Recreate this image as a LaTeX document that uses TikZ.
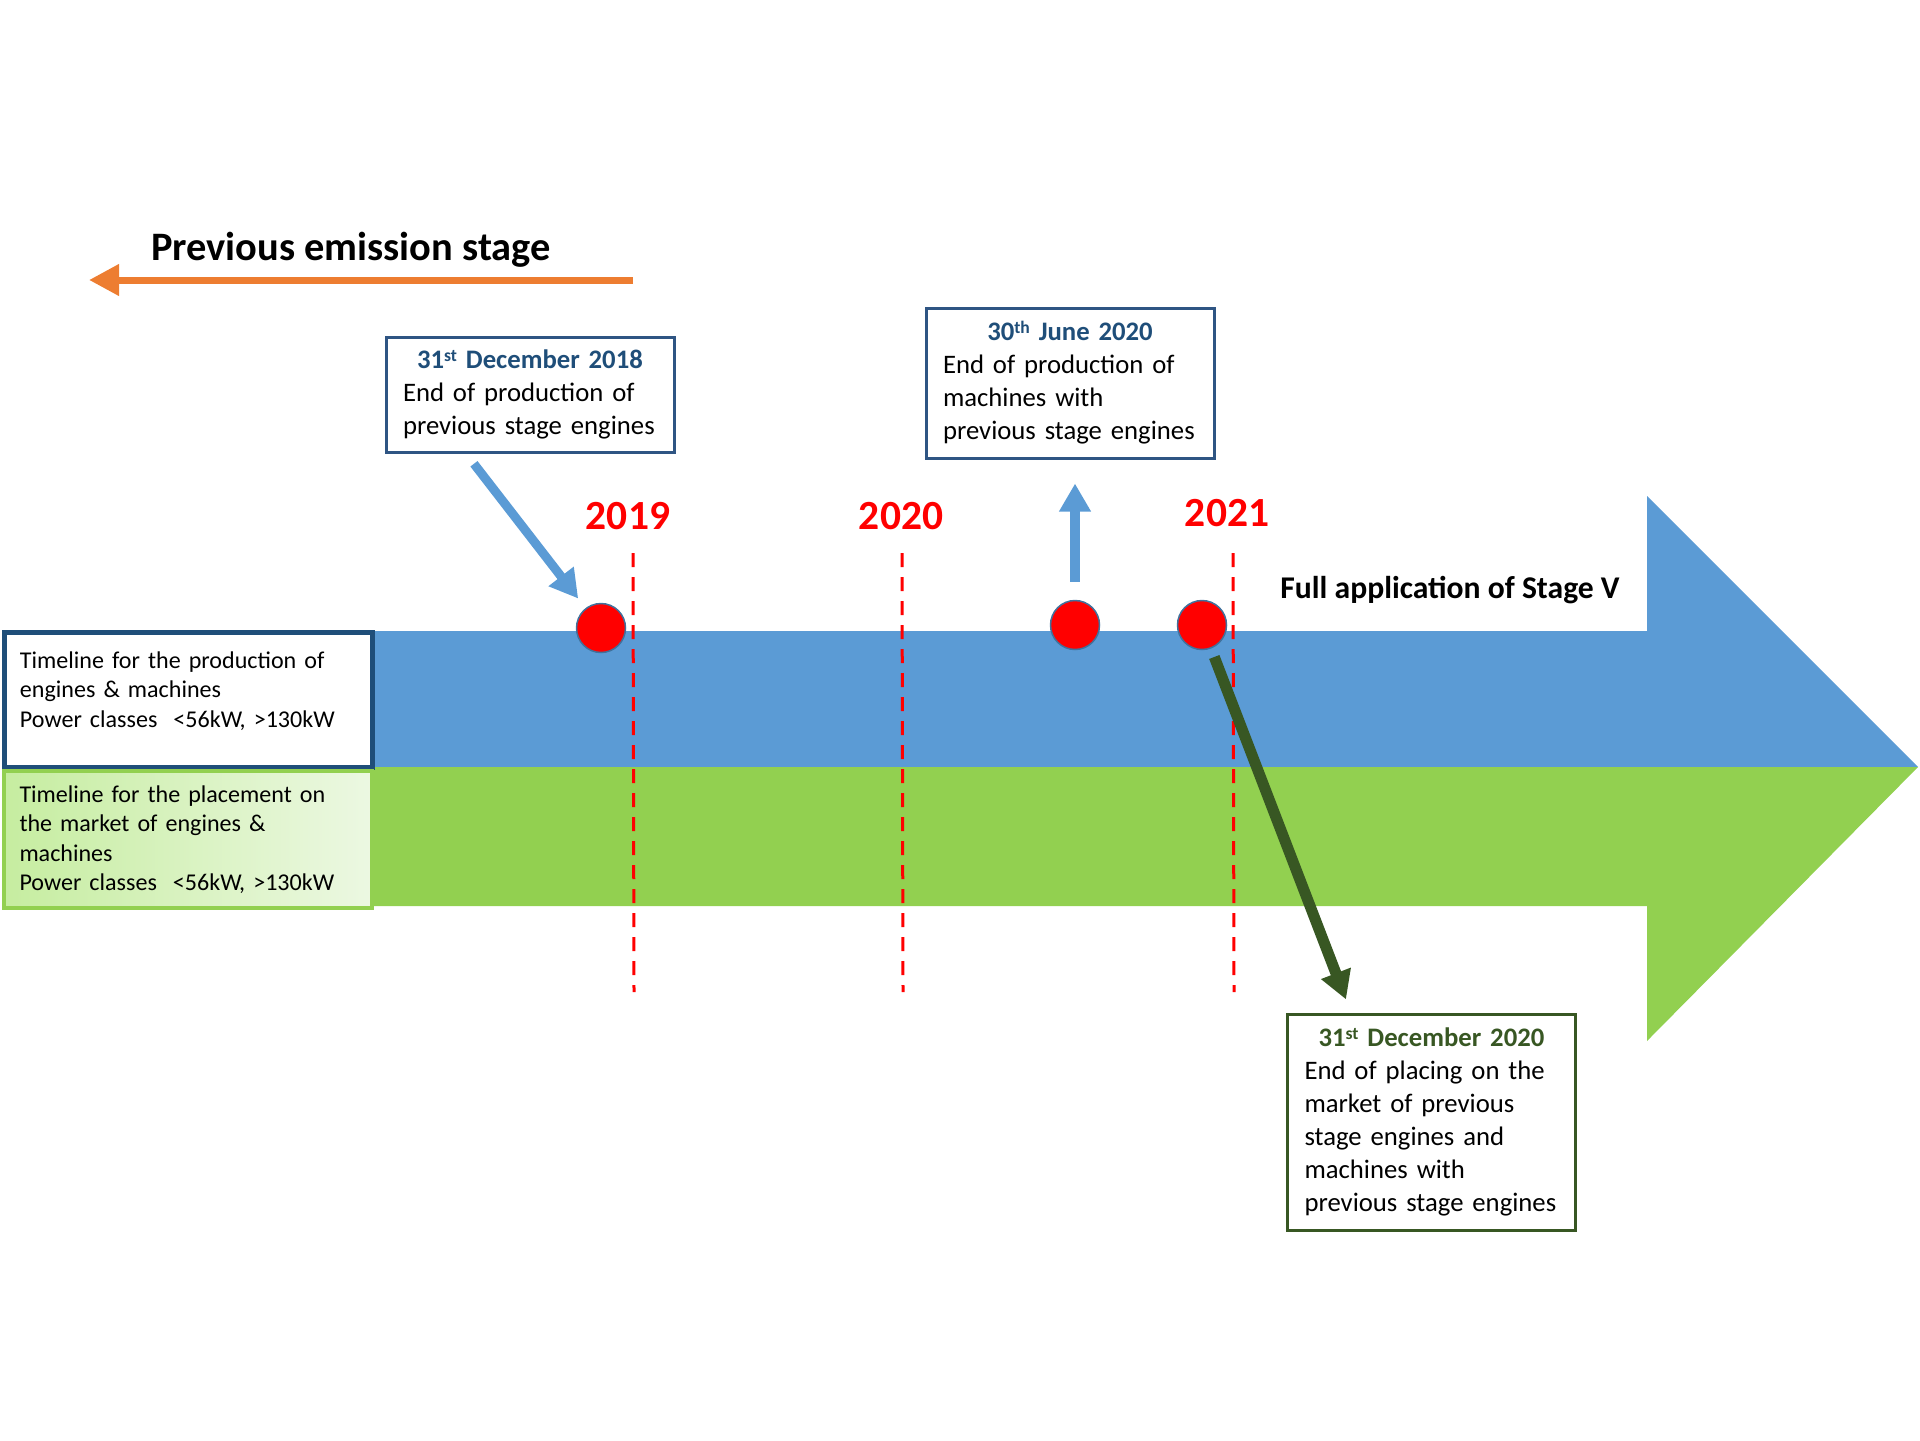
\documentclass[tikz,border=0pt]{standalone}
\usepackage{fontspec}
\setmainfont{Carlito}
\usetikzlibrary{positioning,arrows.meta,calc}

\definecolor{bandBlue}{RGB}{91,155,213}
\definecolor{bandGreen}{RGB}{146,208,80}
\definecolor{prevOrange}{RGB}{237,125,49}
\definecolor{boxBlue}{RGB}{47,85,131}
\definecolor{labelBlue}{RGB}{31,78,121}
\definecolor{boxGreen}{RGB}{56,87,35}
\definecolor{dotRed}{RGB}{255,0,0}
\definecolor{dotEdge}{RGB}{65,113,156}
\definecolor{fadeGreen}{RGB}{198,237,160}
\definecolor{paleGreen}{RGB}{236,248,226}

\newcommand{\dateHead}[2]{\makebox[2.54cm][c]{\bfseries\color{#1}#2}}
\newcommand{\dayMark}[1]{\raisebox{0.55ex}{\fontsize{5}{5}\selectfont #1}}

\begin{document}
\begin{tikzpicture}[
    callout/.style={draw=boxBlue, line width=0.03cm, fill=white, inner sep=0pt,
        minimum width=2.88cm, text width=2.54cm, align=left,
        font=\fontsize{7.6}{9.4}\selectfont},
    legendbox/.style={anchor=north west, inner xsep=0.15cm, inner ysep=0pt,
        text width=3.37cm, align=left, font=\fontsize{6.85}{8.4}\selectfont},
    yearlabel/.style={text=dotRed, font=\fontsize{11.8}{14}\selectfont\bfseries},
    yearline/.style={dotRed, line width=0.03cm, dash pattern=on 0.14cm off 0.1cm},
    milestone/.style={circle, fill=dotRed, draw=dotEdge, line width=0.015cm,
        minimum size=0.49cm, inner sep=0pt},
    pointer/.style={-{Triangle[length=0.28cm, width=0.3cm]}, line width=0.09cm},
]
    \useasboundingbox (0,0) rectangle (19.2,-14.4);

    \coordinate (BandStart) at (3.70,-6.31);
    \coordinate (BandMid) at (3.70,-7.67);
    \coordinate (BandEnd) at (3.70,-9.06);
    \coordinate (HeadTop) at (16.47,-4.96);
    \coordinate (HeadBot) at (16.47,-10.41);
    \coordinate (HeadTip) at (19.18,-7.67);

    \coordinate (PrevStart) at (6.33,-2.80);
    \coordinate (PrevEnd) at (0.89,-2.80);

    \coordinate (Tick2019Top) at (6.33,-5.53);
    \coordinate (Tick2019End) at (6.34,-9.92);
    \coordinate (Tick2020Top) at (9.02,-5.53);
    \coordinate (Tick2020End) at (9.03,-9.92);
    \coordinate (Tick2021Top) at (12.33,-5.53);
    \coordinate (Tick2021End) at (12.34,-9.92);

    %Bands
    \fill[bandBlue] (BandStart) -- (BandStart -| HeadTop) -- (HeadTop) -- (HeadTip)
        -- (BandMid) -- cycle;
    \fill[bandGreen] (BandMid) -- (HeadTip) -- (HeadBot) -- (BandEnd -| HeadBot)
        -- (BandEnd) -- cycle;

    \node[legendbox, draw=labelBlue, line width=0.05cm, fill=white,
        minimum width=3.67cm, minimum height=1.35cm] (ProdTimeline) at (0.025,-6.295)
        {Timeline for the production of\\ engines \& machines\\
         Power classes\ \ <56kW, >130kW\par\kern0.17cm};
    \node[legendbox, draw=bandGreen, line width=0.04cm, left color=fadeGreen,
        right color=paleGreen, minimum width=3.68cm, minimum height=1.37cm]
        (MarketTimeline) at (0.02,-7.69)
        {Timeline for the placement on\\ the market of engines \&\\ machines\\
         Power classes\ \ <56kW, >130kW};

    \node[font=\fontsize{11.5}{14}\selectfont\bfseries] (PrevTitle) at (3.51,-2.50)
        {Previous emission stage};
    \draw[-{Triangle[length=0.3cm, width=0.3cm]}, prevOrange, line width=0.07cm]
        (PrevStart) -- (PrevEnd);

    \node[font=\fontsize{9}{11}\selectfont\bfseries] (FullStage) at (14.50,-5.90)
        {Full application of Stage V};

    %Years
    \node[yearlabel] (Year2019) at (6.28,-5.16) {2019};
    \node[yearlabel] (Year2020) at (9.01,-5.16) {2020};
    \node[yearlabel] (Year2021) at (12.27,-5.13) {2021};

    \draw[yearline] (Tick2019Top) -- (Tick2019End);
    \draw[yearline] (Tick2020Top) -- (Tick2020End);
    \draw[yearline] (Tick2021Top) -- (Tick2021End);

    \node[milestone] (Dot2019) at (6.01,-6.28) {};
    \node[milestone] (DotJune) at (10.75,-6.25) {};
    \node[milestone] (DotDec) at (12.02,-6.25) {};

    %Callouts
    \node[callout, minimum height=1.15cm] (DecEighteen) at (5.30,-3.945)
        {\dateHead{labelBlue}{31\dayMark{st} December 2018}\\
         End of production of\\ previous stage engines};
    \node[callout, minimum height=1.50cm] (JuneTwenty) at (10.70,-3.83)
        {\dateHead{labelBlue}{30\dayMark{th} June 2020}\\
         End of production of\\ machines with\\ previous stage engines};
    \node[callout, draw=boxGreen, minimum height=2.16cm] (DecTwenty) at (14.315,-11.22)
        {\dateHead{boxGreen}{31\dayMark{st} December 2020}\\
         End of placing on the\\ market of previous\\ stage engines and\\
         machines with\\ previous stage engines};

    \coordinate (DecEighteenFoot) at ($(DecEighteen.south west)!0.28!(DecEighteen.south east)$);
    \coordinate (DecTwentyTop) at ($(DecTwenty.north west)+(0.65,0)$);

    \draw[pointer, bandBlue, shorten <=0.13cm, shorten >=0.12cm]
        (DecEighteenFoot) -- (Dot2019);
    \draw[pointer, bandBlue, line width=0.1cm, shorten <=0.18cm, shorten >=0.24cm]
        (DotJune.north) -- (DotJune.north |- JuneTwenty.south);
    \draw[pointer, boxGreen, line width=0.11cm, shorten <=0.09cm, shorten >=0.14cm]
        (DotDec) -- (DecTwentyTop);
\end{tikzpicture}
\end{document}
